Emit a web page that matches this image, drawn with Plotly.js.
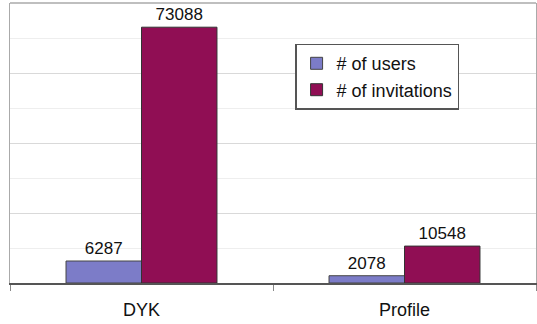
<!DOCTYPE html>
<html>
<head>
<meta charset="utf-8">
<script src="https://cdn.plot.ly/plotly-3.0.1.min.js"></script>
<style>html,body{margin:0;padding:0;background:#fff;}#chart{width:537px;height:324px;}</style>
</head>
<body>
<div id="chart"></div>
<script>
const categories = ["DYK", "Profile"];
const users = [6287, 2078];
const invitations = [73088, 10548];
const seriesNames = ["# of users", "# of invitations"];

const font = "Liberation Sans, Arial, Helvetica, sans-serif";
const traces = [
  {
    type: "bar", name: seriesNames[0], x: categories, y: users,
    text: users.map(String), textposition: "outside", cliponaxis: false,
    textfont: {family: font, size: 17, color: "#111"},
    marker: {color: "#7c7cc8", line: {color: "#444", width: 1}}
  },
  {
    type: "bar", name: seriesNames[1], x: categories, y: invitations,
    text: invitations.map(String), textposition: "outside", cliponaxis: false,
    textfont: {family: font, size: 17, color: "#111"},
    marker: {color: "#900e54", line: {color: "#333", width: 1}}
  }
];

const layout = {
  width: 537, height: 324,
  margin: {l: 10, r: 1, t: 3, b: 41, pad: 0},
  paper_bgcolor: "#fff", plot_bgcolor: "#fff",
  font: {family: font, size: 18, color: "#111"},
  barmode: "group", bargap: 0.426, bargroupgap: 0,
  showlegend: true,
  legend: {
    x: 0.542, y: 0.855, xanchor: "left", yanchor: "top",
    bgcolor: "#fff", bordercolor: "#555", borderwidth: 1.5,
    font: {family: font, size: 18, color: "#111"},
    tracegroupgap: 0, itemwidth: 30
  },
  xaxis: {
    type: "category", showline: true, linecolor: "#555", linewidth: 2,
    ticks: "outside", tickson: "boundaries", ticklen: 6, tickcolor: "#888", tickwidth: 1,
    ticklabelstandoff: 9,
    tickfont: {family: font, size: 18, color: "#111"},
    showgrid: false, zeroline: false, fixedrange: true
  },
  yaxis: {
    range: [0, 80000], dtick: 20000, showticklabels: false, ticks: "",
    showgrid: true, gridcolor: "#d9d9d9", gridwidth: 1,
    minor: {dtick: 10000, showgrid: true, gridcolor: "#eeeeee", gridwidth: 1},
    showline: true, mirror: true, linecolor: "#aaa", linewidth: 1.5,
    zeroline: false, fixedrange: true
  },
  shapes: [
    {type: "line", xref: "paper", yref: "paper", x0: 0, x1: 1, y0: 1, y1: 1,
     line: {color: "#aaa", width: 1.5}}
  ]
};

Plotly.newPlot("chart", traces, layout, {displayModeBar: false, staticPlot: true});
</script>
</body>
</html>
